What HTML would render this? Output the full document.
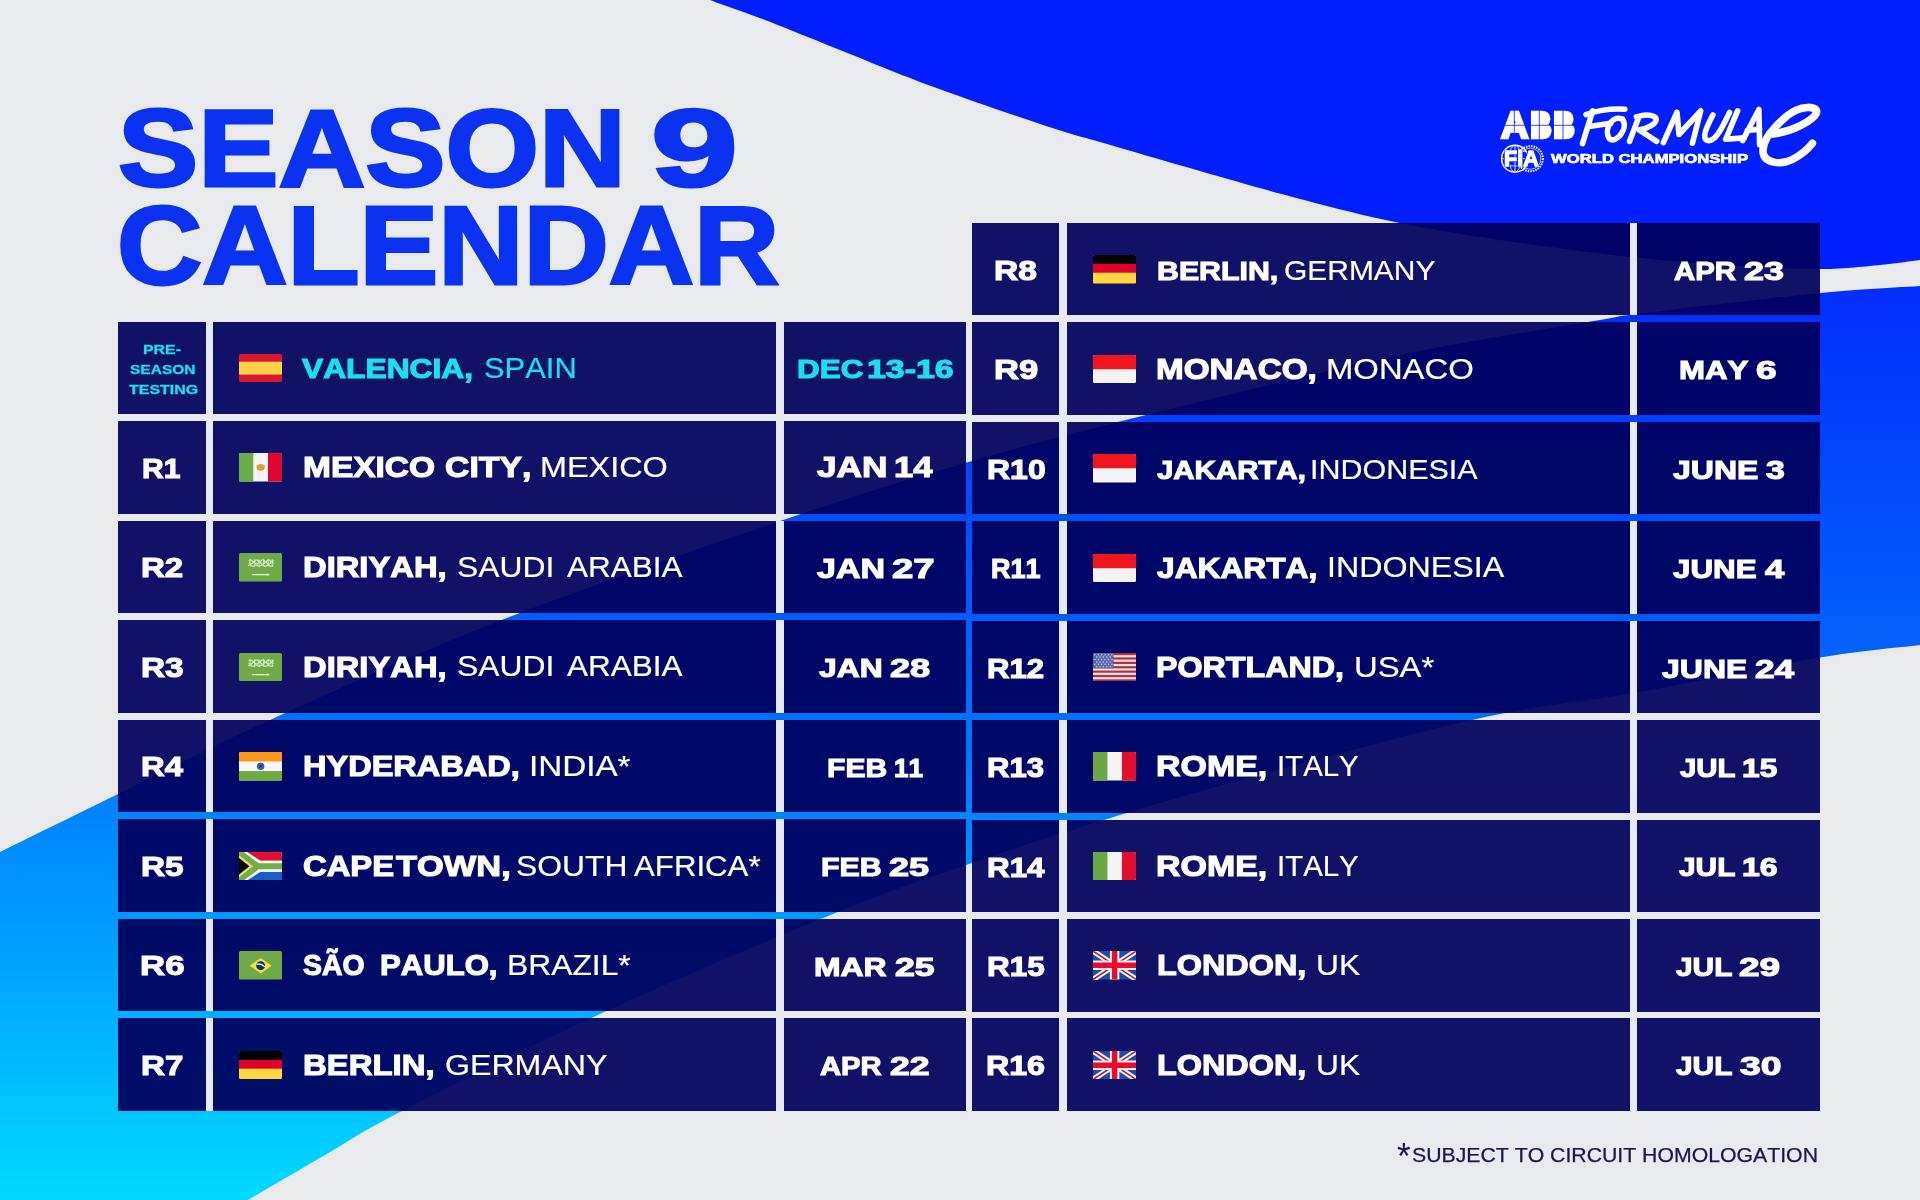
<!DOCTYPE html>
<html lang="en"><head><meta charset="utf-8"><title>Season 9 Calendar</title>
<style>
html,body{margin:0;padding:0}
body{width:1920px;height:1200px;position:relative;overflow:hidden;background:#e9eaee;font-family:"Liberation Sans",sans-serif;font-kerning:none}
.bg{position:absolute;left:0;top:0}
.c{position:absolute;background:rgba(0,0,92,.93)}
.s{position:absolute;background:#e6e9fa}
.tx{position:absolute;left:0;top:0;width:1920px;height:1200px;will-change:transform}
.t{position:absolute;white-space:pre;line-height:1;transform-origin:0 0;font-kerning:none}
.f{position:absolute;display:block;border-radius:1.5px}
</style></head>
<body>
<svg class="bg" width="1920" height="1200" viewBox="0 0 1920 1200"><defs><linearGradient id="g" gradientUnits="userSpaceOnUse" x1="0" y1="0" x2="0" y2="1200"><stop offset="0.2417" stop-color="rgb(3,45,252)"/><stop offset="0.5417" stop-color="rgb(3,98,250)"/><stop offset="0.5983" stop-color="rgb(0,112,250)"/><stop offset="0.7083" stop-color="rgb(0,140,255)"/><stop offset="0.8083" stop-color="rgb(0,165,255)"/><stop offset="0.9167" stop-color="rgb(0,195,255)"/><stop offset="1.0000" stop-color="rgb(0,218,255)"/></linearGradient></defs><path d="M700.0,-6.0 L700.3,-5.8 L700.6,-5.5 L700.7,-5.2 L700.9,-5.0 L701.2,-4.6 L701.6,-4.2 L702.1,-3.8 L703.0,-3.3 L704.1,-2.6 L705.6,-1.9 L707.6,-1.0 L710.0,0.0 L712.9,1.1 L716.3,2.4 L720.1,3.8 L724.3,5.3 L728.7,6.8 L733.4,8.5 L738.4,10.2 L743.5,12.1 L748.8,14.0 L754.2,15.9 L759.6,17.9 L765.0,20.0 L770.5,22.1 L776.3,24.4 L782.3,26.8 L788.5,29.3 L794.8,31.8 L801.2,34.4 L807.7,37.0 L814.3,39.6 L820.8,42.3 L827.3,44.9 L833.7,47.5 L840.0,50.0 L846.2,52.5 L852.5,55.0 L858.8,57.6 L865.0,60.1 L871.2,62.7 L877.5,65.2 L883.8,67.7 L890.0,70.2 L896.2,72.7 L902.5,75.2 L908.8,77.6 L915.0,80.0 L921.2,82.4 L927.5,84.7 L933.8,87.0 L940.0,89.3 L946.2,91.6 L952.5,93.8 L958.8,96.0 L965.0,98.3 L971.2,100.5 L977.5,102.7 L983.8,104.8 L990.0,107.0 L996.4,109.2 L1003.0,111.5 L1009.7,113.7 L1016.5,116.0 L1023.3,118.3 L1030.0,120.6 L1036.6,122.7 L1043.0,124.9 L1049.1,126.9 L1054.8,128.7 L1060.2,130.4 L1065.0,132.0 L1069.1,133.3 L1072.4,134.3 L1075.0,135.1 L1077.2,135.7 L1079.1,136.3 L1080.9,136.8 L1082.8,137.2 L1085.0,137.8 L1087.6,138.5 L1090.9,139.4 L1094.9,140.5 L1100.0,142.0 L1106.1,143.8 L1112.9,145.7 L1120.4,147.9 L1128.5,150.3 L1137.1,152.8 L1145.9,155.4 L1155.0,158.0 L1164.3,160.7 L1173.5,163.4 L1182.6,166.0 L1191.5,168.6 L1200.0,171.0 L1208.3,173.4 L1216.7,175.8 L1225.1,178.2 L1233.5,180.6 L1241.9,183.0 L1250.3,185.4 L1258.7,187.7 L1267.0,190.1 L1275.4,192.4 L1283.6,194.6 L1291.8,196.8 L1300.0,199.0 L1308.1,201.1 L1316.0,203.2 L1323.9,205.2 L1331.7,207.2 L1339.4,209.2 L1347.2,211.1 L1355.0,213.0 L1362.8,214.9 L1370.7,216.7 L1378.6,218.5 L1386.7,220.3 L1395.0,222.0 L1403.3,223.7 L1411.6,225.3 L1420.0,226.9 L1428.3,228.4 L1436.8,229.9 L1445.3,231.4 L1454.0,232.8 L1462.8,234.3 L1471.8,235.7 L1480.9,237.1 L1490.3,238.6 L1500.0,240.0 L1510.0,241.5 L1520.5,243.0 L1531.2,244.5 L1542.2,246.0 L1553.4,247.6 L1564.7,249.1 L1576.0,250.5 L1587.2,252.0 L1598.3,253.3 L1609.2,254.6 L1619.8,255.9 L1630.0,257.0 L1640.0,258.0 L1649.8,259.0 L1659.6,260.0 L1669.3,260.8 L1678.8,261.6 L1688.1,262.4 L1697.3,263.1 L1706.3,263.7 L1715.1,264.4 L1723.6,264.9 L1731.9,265.5 L1740.0,266.0 L1747.8,266.5 L1755.4,266.9 L1762.8,267.3 L1770.0,267.7 L1777.0,268.0 L1783.8,268.2 L1790.3,268.5 L1796.7,268.7 L1802.8,268.8 L1808.8,268.9 L1814.5,269.0 L1820.0,269.0 L1825.2,269.0 L1830.1,268.9 L1834.6,268.7 L1838.9,268.6 L1843.0,268.3 L1846.9,268.1 L1850.7,267.8 L1854.4,267.4 L1858.2,267.1 L1862.0,266.7 L1865.9,266.4 L1870.0,266.0 L1874.2,265.6 L1878.4,265.2 L1882.7,264.7 L1887.0,264.3 L1891.3,263.8 L1895.6,263.2 L1899.9,262.7 L1904.1,262.2 L1908.2,261.6 L1912.2,261.1 L1916.2,260.5 L1920.0,260.0 L1923.8,259.4 L1927.7,258.8 L1931.6,258.2 L1935.6,257.5 L1939.4,256.8 L1943.1,256.1 L1946.7,255.5 L1950.0,254.9 L1953.0,254.3 L1955.8,253.8 L1958.1,253.3 L1960.0,253.0 L1960.0,-10.0 L700.0,-10.0 Z" fill="#001eff"/><path d="M1960.0,283.0 L1958.3,283.1 L1956.3,283.3 L1954.2,283.4 L1951.9,283.6 L1949.2,283.8 L1946.2,284.1 L1942.9,284.3 L1939.3,284.6 L1935.2,284.9 L1930.6,285.2 L1925.6,285.6 L1920.0,286.0 L1914.0,286.4 L1907.8,286.8 L1901.2,287.1 L1894.2,287.5 L1886.8,287.9 L1878.9,288.4 L1870.6,288.9 L1861.7,289.5 L1852.2,290.2 L1842.2,291.0 L1831.4,291.9 L1820.0,293.0 L1807.2,294.3 L1792.6,295.9 L1776.7,297.6 L1759.7,299.5 L1742.2,301.5 L1724.6,303.6 L1707.1,305.6 L1690.3,307.6 L1674.4,309.5 L1660.0,311.2 L1647.4,312.7 L1637.0,314.0 L1629.3,314.9 L1624.3,315.5 L1621.3,315.9 L1619.9,316.0 L1619.5,316.1 L1619.6,316.1 L1619.6,316.2 L1619.0,316.4 L1617.3,316.8 L1613.9,317.5 L1608.3,318.5 L1600.0,320.0 L1589.2,321.8 L1576.8,323.9 L1562.8,326.1 L1547.6,328.6 L1531.2,331.2 L1513.8,334.1 L1495.7,337.1 L1477.0,340.3 L1457.9,343.7 L1438.6,347.3 L1419.2,351.1 L1400.0,355.0 L1380.3,359.2 L1359.3,363.8 L1337.5,368.8 L1315.0,374.0 L1292.2,379.4 L1269.1,384.9 L1246.2,390.4 L1223.6,395.9 L1201.7,401.3 L1180.6,406.5 L1160.6,411.4 L1142.0,416.0 L1124.8,420.3 L1108.6,424.3 L1093.4,428.2 L1079.0,431.9 L1065.1,435.4 L1051.8,438.9 L1038.7,442.4 L1025.7,445.9 L1012.7,449.5 L999.5,453.2 L986.0,457.0 L972.0,461.0 L958.0,465.0 L944.5,468.9 L931.4,472.8 L918.4,476.6 L905.5,480.5 L892.2,484.5 L878.6,488.7 L864.4,493.2 L849.5,498.0 L833.5,503.2 L816.4,508.8 L798.0,515.0 L777.9,521.8 L756.2,529.1 L733.0,537.0 L708.9,545.3 L683.9,553.9 L658.4,562.8 L632.8,571.7 L607.3,580.8 L582.1,589.9 L557.7,598.8 L534.2,607.5 L512.0,616.0 L490.7,624.3 L469.8,632.7 L449.2,641.1 L429.1,649.6 L409.3,658.0 L389.9,666.3 L371.0,674.6 L352.5,682.8 L334.4,690.8 L316.8,698.7 L299.7,706.5 L283.0,714.0 L266.9,721.4 L251.3,728.6 L236.1,735.8 L221.5,742.8 L207.3,749.7 L193.6,756.5 L180.2,763.1 L167.1,769.6 L154.4,776.0 L142.0,782.1 L129.9,788.2 L118.0,794.0 L106.3,799.7 L94.7,805.4 L83.4,810.9 L72.3,816.4 L61.6,821.7 L51.2,826.8 L41.3,831.6 L31.8,836.3 L22.9,840.7 L14.6,844.8 L7.0,848.6 L0.0,852.0 L-6.2,855.1 L-11.6,857.8 L-16.4,860.1 L-20.6,862.2 L-24.2,864.0 L-27.4,865.6 L-30.1,867.0 L-32.5,868.2 L-34.6,869.3 L-36.6,870.3 L-38.3,871.2 L-40.0,872.0 L-40.0,1220.0 L214.0,1220.0 L215.5,1219.1 L217.2,1218.1 L219.1,1217.0 L221.2,1215.7 L223.6,1214.4 L226.2,1212.8 L229.1,1211.1 L232.2,1209.3 L235.7,1207.2 L239.5,1205.0 L243.6,1202.6 L248.0,1200.0 L252.9,1197.1 L258.3,1193.9 L264.2,1190.5 L270.5,1186.8 L277.0,1183.0 L283.8,1179.0 L290.7,1174.9 L297.7,1170.9 L304.7,1166.8 L311.7,1162.7 L318.4,1158.8 L325.0,1155.0 L331.0,1151.5 L336.4,1148.2 L341.4,1145.2 L346.2,1142.2 L351.0,1139.3 L355.9,1136.2 L361.3,1133.0 L367.4,1129.6 L374.2,1125.7 L382.2,1121.4 L391.3,1116.5 L402.0,1111.0 L414.2,1104.8 L427.6,1097.9 L442.2,1090.5 L457.7,1082.7 L474.1,1074.5 L491.2,1066.0 L508.9,1057.3 L526.9,1048.5 L545.2,1039.7 L563.6,1031.0 L581.9,1022.4 L600.0,1014.0 L618.5,1005.6 L637.9,996.9 L658.1,988.0 L678.7,979.0 L699.5,970.0 L720.4,961.1 L741.0,952.3 L761.2,943.7 L780.8,935.6 L799.4,927.8 L816.9,920.6 L833.0,914.0 L847.7,908.1 L861.1,902.8 L873.5,898.0 L885.0,893.6 L895.8,889.6 L906.1,885.8 L916.2,882.2 L926.1,878.7 L936.2,875.3 L946.6,871.7 L957.5,868.0 L969.0,864.0 L981.0,859.9 L993.0,855.8 L1005.0,851.7 L1017.1,847.7 L1029.4,843.6 L1041.8,839.6 L1054.3,835.5 L1067.0,831.4 L1079.9,827.4 L1093.0,823.3 L1106.4,819.2 L1120.0,815.0 L1134.0,810.8 L1148.2,806.6 L1162.7,802.3 L1177.5,798.0 L1192.4,793.7 L1207.6,789.4 L1222.8,785.1 L1238.2,780.9 L1253.6,776.6 L1269.1,772.3 L1284.6,768.2 L1300.0,764.0 L1315.6,759.8 L1331.6,755.5 L1347.7,751.2 L1364.1,746.9 L1380.5,742.6 L1396.9,738.3 L1413.2,734.1 L1429.3,730.1 L1445.1,726.2 L1460.5,722.6 L1475.5,719.2 L1490.0,716.0 L1503.8,713.2 L1517.0,710.7 L1529.6,708.6 L1541.9,706.6 L1553.8,704.8 L1565.6,703.2 L1577.4,701.5 L1589.3,699.9 L1601.3,698.2 L1613.7,696.3 L1626.6,694.3 L1640.0,692.0 L1654.2,689.4 L1669.2,686.6 L1684.8,683.6 L1700.7,680.5 L1716.9,677.3 L1733.1,674.0 L1749.2,670.8 L1764.8,667.8 L1779.9,664.8 L1794.3,662.1 L1807.7,659.6 L1820.0,657.5 L1831.3,655.7 L1842.0,654.1 L1852.0,652.7 L1861.5,651.4 L1870.4,650.4 L1878.8,649.4 L1886.6,648.6 L1894.1,647.8 L1901.1,647.1 L1907.7,646.4 L1914.0,645.7 L1920.0,645.0 L1925.6,644.3 L1930.6,643.7 L1935.2,643.1 L1939.3,642.6 L1942.9,642.1 L1946.2,641.7 L1949.2,641.3 L1951.9,641.0 L1954.2,640.7 L1956.3,640.5 L1958.3,640.2 L1960.0,640.0 Z" fill="url(#g)"/></svg>
<div class="c" style="left:118.3px;top:321.6px;width:87.7px;height:92.6px"></div>
<div class="c" style="left:213.0px;top:321.6px;width:563.4px;height:92.6px"></div>
<div class="c" style="left:784.0px;top:321.6px;width:181.8px;height:92.6px"></div>
<div class="s" style="left:206.0px;top:321.6px;width:7.0px;height:92.6px"></div>
<div class="s" style="left:776.4px;top:321.6px;width:7.6px;height:92.6px"></div>
<div class="c" style="left:118.3px;top:421.2px;width:87.7px;height:92.6px"></div>
<div class="c" style="left:213.0px;top:421.2px;width:563.4px;height:92.6px"></div>
<div class="c" style="left:784.0px;top:421.2px;width:181.8px;height:92.6px"></div>
<div class="s" style="left:206.0px;top:421.2px;width:7.0px;height:92.6px"></div>
<div class="s" style="left:776.4px;top:421.2px;width:7.6px;height:92.6px"></div>
<div class="c" style="left:118.3px;top:520.7px;width:87.7px;height:92.6px"></div>
<div class="c" style="left:213.0px;top:520.7px;width:563.4px;height:92.6px"></div>
<div class="c" style="left:784.0px;top:520.7px;width:181.8px;height:92.6px"></div>
<div class="s" style="left:206.0px;top:520.7px;width:7.0px;height:92.6px"></div>
<div class="s" style="left:776.4px;top:520.7px;width:7.6px;height:92.6px"></div>
<div class="c" style="left:118.3px;top:620.3px;width:87.7px;height:92.6px"></div>
<div class="c" style="left:213.0px;top:620.3px;width:563.4px;height:92.6px"></div>
<div class="c" style="left:784.0px;top:620.3px;width:181.8px;height:92.6px"></div>
<div class="s" style="left:206.0px;top:620.3px;width:7.0px;height:92.6px"></div>
<div class="s" style="left:776.4px;top:620.3px;width:7.6px;height:92.6px"></div>
<div class="c" style="left:118.3px;top:719.8px;width:87.7px;height:92.6px"></div>
<div class="c" style="left:213.0px;top:719.8px;width:563.4px;height:92.6px"></div>
<div class="c" style="left:784.0px;top:719.8px;width:181.8px;height:92.6px"></div>
<div class="s" style="left:206.0px;top:719.8px;width:7.0px;height:92.6px"></div>
<div class="s" style="left:776.4px;top:719.8px;width:7.6px;height:92.6px"></div>
<div class="c" style="left:118.3px;top:819.3px;width:87.7px;height:92.6px"></div>
<div class="c" style="left:213.0px;top:819.3px;width:563.4px;height:92.6px"></div>
<div class="c" style="left:784.0px;top:819.3px;width:181.8px;height:92.6px"></div>
<div class="s" style="left:206.0px;top:819.3px;width:7.0px;height:92.6px"></div>
<div class="s" style="left:776.4px;top:819.3px;width:7.6px;height:92.6px"></div>
<div class="c" style="left:118.3px;top:918.9px;width:87.7px;height:92.6px"></div>
<div class="c" style="left:213.0px;top:918.9px;width:563.4px;height:92.6px"></div>
<div class="c" style="left:784.0px;top:918.9px;width:181.8px;height:92.6px"></div>
<div class="s" style="left:206.0px;top:918.9px;width:7.0px;height:92.6px"></div>
<div class="s" style="left:776.4px;top:918.9px;width:7.6px;height:92.6px"></div>
<div class="c" style="left:118.3px;top:1018.4px;width:87.7px;height:92.6px"></div>
<div class="c" style="left:213.0px;top:1018.4px;width:563.4px;height:92.6px"></div>
<div class="c" style="left:784.0px;top:1018.4px;width:181.8px;height:92.6px"></div>
<div class="s" style="left:206.0px;top:1018.4px;width:7.0px;height:92.6px"></div>
<div class="s" style="left:776.4px;top:1018.4px;width:7.6px;height:92.6px"></div>
<div class="c" style="left:972.2px;top:222.9px;width:87.2px;height:92.6px"></div>
<div class="c" style="left:1067.0px;top:222.9px;width:563.0px;height:92.6px"></div>
<div class="c" style="left:1637.4px;top:222.9px;width:182.3px;height:92.6px"></div>
<div class="s" style="left:1059.4px;top:222.9px;width:7.6px;height:92.6px"></div>
<div class="s" style="left:1630.0px;top:222.9px;width:7.4px;height:92.6px"></div>
<div class="c" style="left:972.2px;top:322.3px;width:87.2px;height:92.6px"></div>
<div class="c" style="left:1067.0px;top:322.3px;width:563.0px;height:92.6px"></div>
<div class="c" style="left:1637.4px;top:322.3px;width:182.3px;height:92.6px"></div>
<div class="s" style="left:1059.4px;top:322.3px;width:7.6px;height:92.6px"></div>
<div class="s" style="left:1630.0px;top:322.3px;width:7.4px;height:92.6px"></div>
<div class="c" style="left:972.2px;top:421.8px;width:87.2px;height:92.6px"></div>
<div class="c" style="left:1067.0px;top:421.8px;width:563.0px;height:92.6px"></div>
<div class="c" style="left:1637.4px;top:421.8px;width:182.3px;height:92.6px"></div>
<div class="s" style="left:1059.4px;top:421.8px;width:7.6px;height:92.6px"></div>
<div class="s" style="left:1630.0px;top:421.8px;width:7.4px;height:92.6px"></div>
<div class="c" style="left:972.2px;top:521.2px;width:87.2px;height:92.6px"></div>
<div class="c" style="left:1067.0px;top:521.2px;width:563.0px;height:92.6px"></div>
<div class="c" style="left:1637.4px;top:521.2px;width:182.3px;height:92.6px"></div>
<div class="s" style="left:1059.4px;top:521.2px;width:7.6px;height:92.6px"></div>
<div class="s" style="left:1630.0px;top:521.2px;width:7.4px;height:92.6px"></div>
<div class="c" style="left:972.2px;top:620.7px;width:87.2px;height:92.6px"></div>
<div class="c" style="left:1067.0px;top:620.7px;width:563.0px;height:92.6px"></div>
<div class="c" style="left:1637.4px;top:620.7px;width:182.3px;height:92.6px"></div>
<div class="s" style="left:1059.4px;top:620.7px;width:7.6px;height:92.6px"></div>
<div class="s" style="left:1630.0px;top:620.7px;width:7.4px;height:92.6px"></div>
<div class="c" style="left:972.2px;top:720.1px;width:87.2px;height:92.6px"></div>
<div class="c" style="left:1067.0px;top:720.1px;width:563.0px;height:92.6px"></div>
<div class="c" style="left:1637.4px;top:720.1px;width:182.3px;height:92.6px"></div>
<div class="s" style="left:1059.4px;top:720.1px;width:7.6px;height:92.6px"></div>
<div class="s" style="left:1630.0px;top:720.1px;width:7.4px;height:92.6px"></div>
<div class="c" style="left:972.2px;top:819.5px;width:87.2px;height:92.6px"></div>
<div class="c" style="left:1067.0px;top:819.5px;width:563.0px;height:92.6px"></div>
<div class="c" style="left:1637.4px;top:819.5px;width:182.3px;height:92.6px"></div>
<div class="s" style="left:1059.4px;top:819.5px;width:7.6px;height:92.6px"></div>
<div class="s" style="left:1630.0px;top:819.5px;width:7.4px;height:92.6px"></div>
<div class="c" style="left:972.2px;top:919.0px;width:87.2px;height:92.6px"></div>
<div class="c" style="left:1067.0px;top:919.0px;width:563.0px;height:92.6px"></div>
<div class="c" style="left:1637.4px;top:919.0px;width:182.3px;height:92.6px"></div>
<div class="s" style="left:1059.4px;top:919.0px;width:7.6px;height:92.6px"></div>
<div class="s" style="left:1630.0px;top:919.0px;width:7.4px;height:92.6px"></div>
<div class="c" style="left:972.2px;top:1018.4px;width:87.2px;height:92.6px"></div>
<div class="c" style="left:1067.0px;top:1018.4px;width:563.0px;height:92.6px"></div>
<div class="c" style="left:1637.4px;top:1018.4px;width:182.3px;height:92.6px"></div>
<div class="s" style="left:1059.4px;top:1018.4px;width:7.6px;height:92.6px"></div>
<div class="s" style="left:1630.0px;top:1018.4px;width:7.4px;height:92.6px"></div>
<svg class="f" style="left:238.7px;top:353.9px" width="43.3" height="28.5" viewBox="0 0 43 28" preserveAspectRatio="none"><rect width="43" height="28" fill="#da1530"/><rect y="7.6" width="43" height="12.6" fill="#fbd145"/></svg>
<svg class="f" style="left:238.7px;top:453.4px" width="43.3" height="28.5" viewBox="0 0 43 28" preserveAspectRatio="none"><rect width="43" height="28" fill="#f4f4f4"/><rect width="14.2" height="28" fill="#6cab4a"/><rect x="28.8" width="14.2" height="28" fill="#de0530"/><ellipse cx="21.5" cy="14.2" rx="4" ry="3.2" fill="#cfa236"/><path d="M17.2,12.6 Q21.5,11 25.8,12.6" stroke="#e8a232" stroke-width="1.1" fill="none"/></svg>
<svg class="f" style="left:238.7px;top:553.0px" width="43.3" height="28.5" viewBox="0 0 43 28" preserveAspectRatio="none"><rect width="43" height="28" fill="#70aa48"/><g stroke="#d6efc8" stroke-width="1.3" fill="none" stroke-linecap="round" opacity=".92"><path d="M10,7.6 q1.5,-1.6 3,0 t3,0 t3,0 t3,0 t3,0 t3,0 t3,0 t3,0"/><path d="M10,10 q1.5,1.6 3,0 t3,0 t3,0 t3,0 t3,0 t3,0 t3,0 t3,0"/><path d="M9.6,12.4 q1.5,-1.6 3,0 t3,0 t3,0 t3,0 t3,0 t3,0 t3,0 t3,0"/><path d="M11,6.4 V13 M15.5,6.4 V13 M20,6.4 V13 M24.5,6.4 V13 M29,6.4 V13 M33,6.4 V13" stroke-width=".9"/></g><path d="M12.8,21.2 H30.2 M28.2,20.2 V22.4" stroke="#e4f3da" stroke-width="1.3" fill="none"/></svg>
<svg class="f" style="left:238.7px;top:652.5px" width="43.3" height="28.5" viewBox="0 0 43 28" preserveAspectRatio="none"><rect width="43" height="28" fill="#70aa48"/><g stroke="#d6efc8" stroke-width="1.3" fill="none" stroke-linecap="round" opacity=".92"><path d="M10,7.6 q1.5,-1.6 3,0 t3,0 t3,0 t3,0 t3,0 t3,0 t3,0 t3,0"/><path d="M10,10 q1.5,1.6 3,0 t3,0 t3,0 t3,0 t3,0 t3,0 t3,0 t3,0"/><path d="M9.6,12.4 q1.5,-1.6 3,0 t3,0 t3,0 t3,0 t3,0 t3,0 t3,0 t3,0"/><path d="M11,6.4 V13 M15.5,6.4 V13 M20,6.4 V13 M24.5,6.4 V13 M29,6.4 V13 M33,6.4 V13" stroke-width=".9"/></g><path d="M12.8,21.2 H30.2 M28.2,20.2 V22.4" stroke="#e4f3da" stroke-width="1.3" fill="none"/></svg>
<svg class="f" style="left:238.7px;top:752.1px" width="43.3" height="28.5" viewBox="0 0 43 28" preserveAspectRatio="none"><rect width="43" height="28" fill="#f5f5f8"/><rect width="43" height="9.3" fill="#fc9a18"/><rect y="18.7" width="43" height="9.3" fill="#70ab42"/><circle cx="21.5" cy="14" r="3.7" fill="#3560b4"/><circle cx="21.5" cy="14" r="1.3" fill="#17357e"/></svg>
<svg class="f" style="left:238.7px;top:851.6px" width="43.3" height="28.5" viewBox="0 0 43 28" preserveAspectRatio="none"><rect width="43" height="28" fill="#f6f6f4"/><rect width="43" height="8.6" fill="#e10f32"/><rect y="19.4" width="43" height="8.6" fill="#1b5cc0"/><path d="M0,0 L8,0 L21.5,8.6 L43,8.6 L43,19.4 L21.5,19.4 L8,28 L0,28Z" fill="#f6f6f4"/><path d="M0,0 L4.6,0 L19.5,11 L43,11 L43,17 L19.5,17 L4.6,28 L0,28Z" fill="#72ad48"/><path d="M0,3.2 L14,14 L0,24.8Z" fill="#f3e25a"/><path d="M0,5.8 L10.4,14 L0,22.2Z" fill="#050505"/></svg>
<svg class="f" style="left:238.7px;top:951.1px" width="43.3" height="28.5" viewBox="0 0 43 28" preserveAspectRatio="none"><rect width="43" height="28" fill="#70aa46"/><path d="M21.5,6.8 L32.4,14.4 L21.5,22 L10.6,14.4Z" fill="#f2e04a"/><circle cx="21.5" cy="14.4" r="4.4" fill="#10306e"/><path d="M17.4,13.2 Q21.8,11.6 25.7,15.6" stroke="#dff0f4" stroke-width="1.3" fill="none"/></svg>
<svg class="f" style="left:238.7px;top:1050.7px" width="43.3" height="28.5" viewBox="0 0 43 28" preserveAspectRatio="none"><rect width="43" height="28" fill="#ffd83e"/><rect width="43" height="17.4" fill="#e1002a"/><rect width="43" height="8.7" fill="#000"/></svg>
<svg class="f" style="left:1092.7px;top:255.1px" width="43.3" height="28.5" viewBox="0 0 43 28" preserveAspectRatio="none"><rect width="43" height="28" fill="#ffd83e"/><rect width="43" height="17.4" fill="#e1002a"/><rect width="43" height="8.7" fill="#000"/></svg>
<svg class="f" style="left:1092.7px;top:354.6px" width="43.3" height="28.5" viewBox="0 0 43 28" preserveAspectRatio="none"><rect width="43" height="28" fill="#f4f4f4"/><rect width="43" height="14" fill="#f0151f"/></svg>
<svg class="f" style="left:1092.7px;top:454.0px" width="43.3" height="28.5" viewBox="0 0 43 28" preserveAspectRatio="none"><rect width="43" height="28" fill="#f4f4f4"/><rect width="43" height="14" fill="#f0151f"/></svg>
<svg class="f" style="left:1092.7px;top:553.5px" width="43.3" height="28.5" viewBox="0 0 43 28" preserveAspectRatio="none"><rect width="43" height="28" fill="#f4f4f4"/><rect width="43" height="14" fill="#f0151f"/></svg>
<svg class="f" style="left:1092.7px;top:652.9px" width="43.3" height="28.5" viewBox="0 0 43 28" preserveAspectRatio="none"><rect width="43" height="28" fill="#fae6ea"/><rect y="0.00" width="43" height="2.15" fill="#b42c3e"/><rect y="4.31" width="43" height="2.15" fill="#b42c3e"/><rect y="8.62" width="43" height="2.15" fill="#b42c3e"/><rect y="12.93" width="43" height="2.15" fill="#b42c3e"/><rect y="17.24" width="43" height="2.15" fill="#b42c3e"/><rect y="21.55" width="43" height="2.15" fill="#b42c3e"/><rect y="25.86" width="43" height="2.15" fill="#b42c3e"/><rect width="20.5" height="15.1" fill="#5a66a6"/><circle cx="1.8" cy="1.7" r=".7" fill="#dfe2f2"/><circle cx="5.2" cy="1.7" r=".7" fill="#dfe2f2"/><circle cx="8.6" cy="1.7" r=".7" fill="#dfe2f2"/><circle cx="12.0" cy="1.7" r=".7" fill="#dfe2f2"/><circle cx="15.4" cy="1.7" r=".7" fill="#dfe2f2"/><circle cx="18.8" cy="1.7" r=".7" fill="#dfe2f2"/><circle cx="3.5" cy="4.0" r=".7" fill="#dfe2f2"/><circle cx="6.9" cy="4.0" r=".7" fill="#dfe2f2"/><circle cx="10.3" cy="4.0" r=".7" fill="#dfe2f2"/><circle cx="13.7" cy="4.0" r=".7" fill="#dfe2f2"/><circle cx="17.1" cy="4.0" r=".7" fill="#dfe2f2"/><circle cx="1.8" cy="6.4" r=".7" fill="#dfe2f2"/><circle cx="5.2" cy="6.4" r=".7" fill="#dfe2f2"/><circle cx="8.6" cy="6.4" r=".7" fill="#dfe2f2"/><circle cx="12.0" cy="6.4" r=".7" fill="#dfe2f2"/><circle cx="15.4" cy="6.4" r=".7" fill="#dfe2f2"/><circle cx="18.8" cy="6.4" r=".7" fill="#dfe2f2"/><circle cx="3.5" cy="8.8" r=".7" fill="#dfe2f2"/><circle cx="6.9" cy="8.8" r=".7" fill="#dfe2f2"/><circle cx="10.3" cy="8.8" r=".7" fill="#dfe2f2"/><circle cx="13.7" cy="8.8" r=".7" fill="#dfe2f2"/><circle cx="17.1" cy="8.8" r=".7" fill="#dfe2f2"/><circle cx="1.8" cy="11.1" r=".7" fill="#dfe2f2"/><circle cx="5.2" cy="11.1" r=".7" fill="#dfe2f2"/><circle cx="8.6" cy="11.1" r=".7" fill="#dfe2f2"/><circle cx="12.0" cy="11.1" r=".7" fill="#dfe2f2"/><circle cx="15.4" cy="11.1" r=".7" fill="#dfe2f2"/><circle cx="18.8" cy="11.1" r=".7" fill="#dfe2f2"/><circle cx="3.5" cy="13.4" r=".7" fill="#dfe2f2"/><circle cx="6.9" cy="13.4" r=".7" fill="#dfe2f2"/><circle cx="10.3" cy="13.4" r=".7" fill="#dfe2f2"/><circle cx="13.7" cy="13.4" r=".7" fill="#dfe2f2"/><circle cx="17.1" cy="13.4" r=".7" fill="#dfe2f2"/></svg>
<svg class="f" style="left:1092.7px;top:752.4px" width="43.3" height="28.5" viewBox="0 0 43 28" preserveAspectRatio="none"><rect width="43" height="28" fill="#f4f4f4"/><rect width="14.3" height="28" fill="#69a844"/><rect x="28.7" width="14.3" height="28" fill="#e30f2d"/></svg>
<svg class="f" style="left:1092.7px;top:851.8px" width="43.3" height="28.5" viewBox="0 0 43 28" preserveAspectRatio="none"><rect width="43" height="28" fill="#f4f4f4"/><rect width="14.3" height="28" fill="#69a844"/><rect x="28.7" width="14.3" height="28" fill="#e30f2d"/></svg>
<svg class="f" style="left:1092.7px;top:951.2px" width="43.3" height="28.5" viewBox="0 0 43 28" preserveAspectRatio="none"><rect width="43" height="28" fill="#1d4ea6"/><path d="M0,0 L43,28 M43,0 L0,28" stroke="#f6f0f2" stroke-width="5.4"/><path d="M0,0 L43,28 M43,0 L0,28" stroke="#b8182e" stroke-width="1.5"/><path d="M21.5,0 V28 M0,14 H43" stroke="#f6f0f2" stroke-width="9.4"/><path d="M21.5,0 V28 M0,14 H43" stroke="#ea0c2c" stroke-width="5.4"/></svg>
<svg class="f" style="left:1092.7px;top:1050.7px" width="43.3" height="28.5" viewBox="0 0 43 28" preserveAspectRatio="none"><rect width="43" height="28" fill="#1d4ea6"/><path d="M0,0 L43,28 M43,0 L0,28" stroke="#f6f0f2" stroke-width="5.4"/><path d="M0,0 L43,28 M43,0 L0,28" stroke="#b8182e" stroke-width="1.5"/><path d="M21.5,0 V28 M0,14 H43" stroke="#f6f0f2" stroke-width="9.4"/><path d="M21.5,0 V28 M0,14 H43" stroke="#ea0c2c" stroke-width="5.4"/></svg>
<svg class="lg" style="position:absolute;left:1490px;top:95px" width="340" height="90" viewBox="1490 95 340 90" role="img" aria-label="ABB FIA Formula E World Championship"><g fill="none" stroke="#fff" stroke-linecap="round" stroke-linejoin="round" stroke-width="5.6"><path d="M1592.7,110.8 L1582.5,143.6"/><path d="M1586.0,114.6 Q1603.9,108.1 1624.8,109.2"/><path d="M1589.0,126.4 L1610.6,123.3"/><path d="M1622.1,119.0 C1610.6,114.9 1603.9,131.1 1609.3,138.6 C1616.0,144.7 1629.6,127.1 1622.1,119.0"/><path d="M1638.4,118.3 L1629.6,141.3"/><path d="M1636.4,116.9 C1651.2,112.2 1663.4,117.6 1651.2,125.7 Q1645.8,129.1 1639.1,129.8 L1656.7,141.3"/><path d="M1663.4,142.7 L1677.0,112.2 L1679.0,134.5 L1700.7,110.8 L1692.5,143.1"/><path d="M1712.9,114.9 C1708.1,124.4 1700.0,139.3 1708.1,140.6 C1716.2,141.3 1723.0,125.7 1729.5,112.5"/><path d="M1737.6,110.8 L1725.7,139.3 L1744.0,137.9"/><path d="M1742.6,140.6 L1758.9,109.5 L1759.6,144.7"/><path d="M1747.4,130.5 L1759.6,129.1"/></g><path d="M1773.1,133.9 C1792.1,131.8 1813.7,120.3 1816.4,112.9 C1818.5,105.4 1800.2,104.7 1786.7,116.2 C1773.1,127.8 1762.3,140.6 1763.0,151.5 C1763.6,163.6 1781.2,165.0 1792.1,159.6 C1801.6,154.8 1808.3,148.7 1812.4,143.3" fill="none" stroke="#fff" stroke-linecap="round" stroke-linejoin="round" stroke-width="7.6"/><path d="M1534,114 H1547 V137 H1534Z M1557,114 H1570 V137 H1557Z M1510.5,123 H1520 V133 H1510.5Z" fill="#fff"/><g fill="none" stroke="#fff"><circle cx="1515" cy="158.7" r="13.4" stroke-width="1.4"/><circle cx="1530.3" cy="158.7" r="12.6" stroke-width="2" stroke-dasharray="1.5 1.1"/><circle cx="1530.3" cy="158.7" r="10.6" stroke-width="0.7"/><ellipse cx="1515" cy="158.7" rx="6" ry="13.4" stroke-width="0.8"/><path d="M1501.6,158.7 H1528.4 M1515,145.3 V172.1 M1503.8,151.5 H1526.2 M1503.8,165.9 H1526.2" stroke-width="0.8"/></g></svg>
<div class="tx">
<div class="t" style="left:302.41px;top:355.04px;font-size:27.76px;transform:scaleX(1.1435);color:#18e0f2;font-weight:700;-webkit-text-stroke:1.10px #18e0f2;">VALENCIA,</div>
<div class="t" style="left:483.70px;top:353.93px;font-size:29.07px;transform:scaleX(1.0627);color:#18e0f2;-webkit-text-stroke:0.20px #18e0f2;">SPAIN</div>
<div class="t" style="left:796.65px;top:355.77px;font-size:26.31px;transform:scaleX(1.1945);color:#18e0f2;font-weight:700;-webkit-text-stroke:1.10px #18e0f2;">DEC</div>
<div class="t" style="left:866.57px;top:355.77px;font-size:26.31px;transform:scaleX(1.2892);color:#18e0f2;font-weight:700;-webkit-text-stroke:1.10px #18e0f2;">13-16</div>
<div class="t" style="left:142.33px;top:454.55px;font-size:27.91px;transform:scaleX(1.0767);color:#ffffff;font-weight:700;-webkit-text-stroke:1.10px #ffffff;">R1</div>
<div class="t" style="left:302.60px;top:453.49px;font-size:28.92px;transform:scaleX(1.1584);color:#ffffff;font-weight:700;-webkit-text-stroke:1.10px #ffffff;">MEXICO</div>
<div class="t" style="left:444.66px;top:453.49px;font-size:28.92px;transform:scaleX(1.1683);color:#ffffff;font-weight:700;-webkit-text-stroke:1.10px #ffffff;">CITY,</div>
<div class="t" style="left:540.25px;top:452.38px;font-size:30.23px;transform:scaleX(1.0715);color:#ffffff;-webkit-text-stroke:0.20px #ffffff;">MEXICO</div>
<div class="t" style="left:817.13px;top:453.41px;font-size:29.14px;transform:scaleX(1.2106);color:#ffffff;font-weight:700;-webkit-text-stroke:1.10px #ffffff;">JAN</div>
<div class="t" style="left:893.57px;top:453.41px;font-size:29.14px;transform:scaleX(1.1896);color:#ffffff;font-weight:700;-webkit-text-stroke:1.10px #ffffff;">14</div>
<div class="t" style="left:140.94px;top:554.09px;font-size:27.91px;transform:scaleX(1.1838);color:#ffffff;font-weight:700;-webkit-text-stroke:1.10px #ffffff;">R2</div>
<div class="t" style="left:302.83px;top:553.03px;font-size:28.92px;transform:scaleX(1.1322);color:#ffffff;font-weight:700;-webkit-text-stroke:1.10px #ffffff;">DIRIYAH,</div>
<div class="t" style="left:456.96px;top:551.92px;font-size:30.23px;transform:scaleX(1.0528);color:#ffffff;-webkit-text-stroke:0.20px #ffffff;">SAUDI</div>
<div class="t" style="left:566.54px;top:551.92px;font-size:30.23px;transform:scaleX(1.0426);color:#ffffff;-webkit-text-stroke:0.20px #ffffff;">ARABIA</div>
<div class="t" style="left:816.55px;top:553.62px;font-size:28.34px;transform:scaleX(1.2008);color:#ffffff;font-weight:700;-webkit-text-stroke:1.10px #ffffff;">JAN</div>
<div class="t" style="left:892.21px;top:553.62px;font-size:28.34px;transform:scaleX(1.3553);color:#ffffff;font-weight:700;-webkit-text-stroke:1.10px #ffffff;">27</div>
<div class="t" style="left:140.93px;top:653.63px;font-size:27.91px;transform:scaleX(1.1947);color:#ffffff;font-weight:700;-webkit-text-stroke:1.10px #ffffff;">R3</div>
<div class="t" style="left:302.83px;top:652.57px;font-size:28.92px;transform:scaleX(1.1322);color:#ffffff;font-weight:700;-webkit-text-stroke:1.10px #ffffff;">DIRIYAH,</div>
<div class="t" style="left:456.96px;top:651.46px;font-size:30.23px;transform:scaleX(1.0528);color:#ffffff;-webkit-text-stroke:0.20px #ffffff;">SAUDI</div>
<div class="t" style="left:566.54px;top:651.46px;font-size:30.23px;transform:scaleX(1.0426);color:#ffffff;-webkit-text-stroke:0.20px #ffffff;">ARABIA</div>
<div class="t" style="left:819.38px;top:655.19px;font-size:26.31px;transform:scaleX(1.2103);color:#ffffff;font-weight:700;-webkit-text-stroke:1.10px #ffffff;">JAN</div>
<div class="t" style="left:890.40px;top:655.19px;font-size:26.31px;transform:scaleX(1.3756);color:#ffffff;font-weight:700;-webkit-text-stroke:1.10px #ffffff;">28</div>
<div class="t" style="left:140.95px;top:753.17px;font-size:27.91px;transform:scaleX(1.1738);color:#ffffff;font-weight:700;-webkit-text-stroke:1.10px #ffffff;">R4</div>
<div class="t" style="left:302.84px;top:752.11px;font-size:28.92px;transform:scaleX(1.1248);color:#ffffff;font-weight:700;-webkit-text-stroke:1.10px #ffffff;">HYDERABAD,</div>
<div class="t" style="left:528.84px;top:751.00px;font-size:30.23px;transform:scaleX(1.0992);color:#ffffff;-webkit-text-stroke:0.20px #ffffff;">INDIA*</div>
<div class="t" style="left:826.72px;top:754.73px;font-size:26.31px;transform:scaleX(1.1445);color:#ffffff;font-weight:700;-webkit-text-stroke:1.10px #ffffff;">FEB</div>
<div class="t" style="left:893.61px;top:754.73px;font-size:26.31px;transform:scaleX(0.9866);color:#ffffff;font-weight:700;-webkit-text-stroke:1.10px #ffffff;">11</div>
<div class="t" style="left:140.93px;top:852.71px;font-size:27.91px;transform:scaleX(1.1954);color:#ffffff;font-weight:700;-webkit-text-stroke:1.10px #ffffff;">R5</div>
<div class="t" style="left:302.88px;top:851.65px;font-size:28.92px;transform:scaleX(1.1346);color:#ffffff;font-weight:700;-webkit-text-stroke:1.10px #ffffff;">CAPE</div>
<div class="t" style="left:396.47px;top:851.65px;font-size:28.92px;transform:scaleX(1.1908);color:#ffffff;font-weight:700;-webkit-text-stroke:1.10px #ffffff;">TOWN,</div>
<div class="t" style="left:515.86px;top:850.54px;font-size:30.23px;transform:scaleX(1.0531);color:#ffffff;-webkit-text-stroke:0.20px #ffffff;">SOUTH</div>
<div class="t" style="left:633.54px;top:850.54px;font-size:30.23px;transform:scaleX(1.0327);color:#ffffff;-webkit-text-stroke:0.20px #ffffff;">AFRICA*</div>
<div class="t" style="left:821.10px;top:854.27px;font-size:26.31px;transform:scaleX(1.1544);color:#ffffff;font-weight:700;-webkit-text-stroke:1.10px #ffffff;">FEB</div>
<div class="t" style="left:888.50px;top:854.27px;font-size:26.31px;transform:scaleX(1.3719);color:#ffffff;font-weight:700;-webkit-text-stroke:1.10px #ffffff;">25</div>
<div class="t" style="left:140.06px;top:952.25px;font-size:27.91px;transform:scaleX(1.2478);color:#ffffff;font-weight:700;-webkit-text-stroke:1.10px #ffffff;">R6</div>
<div class="t" style="left:303.12px;top:951.19px;font-size:28.92px;transform:scaleX(0.9817);color:#ffffff;font-weight:700;-webkit-text-stroke:1.10px #ffffff;">SÃO</div>
<div class="t" style="left:379.91px;top:951.19px;font-size:28.92px;transform:scaleX(1.0760);color:#ffffff;font-weight:700;-webkit-text-stroke:1.10px #ffffff;">PAULO,</div>
<div class="t" style="left:506.79px;top:950.08px;font-size:30.23px;transform:scaleX(1.0526);color:#ffffff;-webkit-text-stroke:0.20px #ffffff;">BRAZIL*</div>
<div class="t" style="left:814.43px;top:953.81px;font-size:26.31px;transform:scaleX(1.2127);color:#ffffff;font-weight:700;-webkit-text-stroke:1.10px #ffffff;">MAR</div>
<div class="t" style="left:895.31px;top:953.81px;font-size:26.31px;transform:scaleX(1.3580);color:#ffffff;font-weight:700;-webkit-text-stroke:1.10px #ffffff;">25</div>
<div class="t" style="left:140.94px;top:1051.79px;font-size:27.91px;transform:scaleX(1.1876);color:#ffffff;font-weight:700;-webkit-text-stroke:1.10px #ffffff;">R7</div>
<div class="t" style="left:302.82px;top:1050.73px;font-size:28.92px;transform:scaleX(1.1388);color:#ffffff;font-weight:700;-webkit-text-stroke:1.10px #ffffff;">BERLIN,</div>
<div class="t" style="left:444.69px;top:1049.62px;font-size:30.23px;transform:scaleX(1.0631);color:#ffffff;-webkit-text-stroke:0.20px #ffffff;">GERMANY</div>
<div class="t" style="left:819.98px;top:1053.35px;font-size:26.31px;transform:scaleX(1.1091);color:#ffffff;font-weight:700;-webkit-text-stroke:1.10px #ffffff;">APR</div>
<div class="t" style="left:890.01px;top:1053.35px;font-size:26.31px;transform:scaleX(1.3522);color:#ffffff;font-weight:700;-webkit-text-stroke:1.10px #ffffff;">22</div>
<div class="t" style="left:994.42px;top:256.92px;font-size:27.62px;transform:scaleX(1.2164);color:#ffffff;font-weight:700;-webkit-text-stroke:1.10px #ffffff;">R8</div>
<div class="t" style="left:1156.60px;top:258.40px;font-size:26.45px;transform:scaleX(1.1463);color:#ffffff;font-weight:700;-webkit-text-stroke:1.10px #ffffff;">BERLIN,</div>
<div class="t" style="left:1284.10px;top:257.30px;font-size:27.76px;transform:scaleX(1.0789);color:#ffffff;-webkit-text-stroke:0.20px #ffffff;">GERMANY</div>
<div class="t" style="left:1673.63px;top:257.83px;font-size:26.31px;transform:scaleX(1.1154);color:#ffffff;font-weight:700;-webkit-text-stroke:1.10px #ffffff;">APR</div>
<div class="t" style="left:1744.01px;top:257.83px;font-size:26.31px;transform:scaleX(1.3649);color:#ffffff;font-weight:700;-webkit-text-stroke:1.10px #ffffff;">23</div>
<div class="t" style="left:993.87px;top:356.36px;font-size:27.62px;transform:scaleX(1.2526);color:#ffffff;font-weight:700;-webkit-text-stroke:1.10px #ffffff;">R9</div>
<div class="t" style="left:1156.41px;top:354.65px;font-size:28.92px;transform:scaleX(1.1509);color:#ffffff;font-weight:700;-webkit-text-stroke:1.10px #ffffff;">MONACO,</div>
<div class="t" style="left:1326.41px;top:353.54px;font-size:30.23px;transform:scaleX(1.0867);color:#ffffff;-webkit-text-stroke:0.20px #ffffff;">MONACO</div>
<div class="t" style="left:1679.32px;top:357.27px;font-size:26.31px;transform:scaleX(1.1851);color:#ffffff;font-weight:700;-webkit-text-stroke:1.10px #ffffff;">MAY</div>
<div class="t" style="left:1756.17px;top:357.27px;font-size:26.31px;transform:scaleX(1.4113);color:#ffffff;font-weight:700;-webkit-text-stroke:1.10px #ffffff;">6</div>
<div class="t" style="left:986.50px;top:455.80px;font-size:27.62px;transform:scaleX(1.1582);color:#ffffff;font-weight:700;-webkit-text-stroke:1.10px #ffffff;">R10</div>
<div class="t" style="left:1157.47px;top:457.28px;font-size:26.45px;transform:scaleX(1.1133);color:#ffffff;font-weight:700;-webkit-text-stroke:1.10px #ffffff;">JAKARTA,</div>
<div class="t" style="left:1310.30px;top:456.18px;font-size:27.76px;transform:scaleX(1.0978);color:#ffffff;-webkit-text-stroke:0.20px #ffffff;">INDONESIA</div>
<div class="t" style="left:1672.68px;top:456.71px;font-size:26.31px;transform:scaleX(1.2169);color:#ffffff;font-weight:700;-webkit-text-stroke:1.10px #ffffff;">JUNE</div>
<div class="t" style="left:1766.18px;top:456.71px;font-size:26.31px;transform:scaleX(1.2873);color:#ffffff;font-weight:700;-webkit-text-stroke:1.10px #ffffff;">3</div>
<div class="t" style="left:991.23px;top:555.24px;font-size:27.62px;transform:scaleX(0.9767);color:#ffffff;font-weight:700;-webkit-text-stroke:1.10px #ffffff;">R11</div>
<div class="t" style="left:1157.42px;top:553.53px;font-size:28.92px;transform:scaleX(1.0968);color:#ffffff;font-weight:700;-webkit-text-stroke:1.10px #ffffff;">JAKARTA,</div>
<div class="t" style="left:1327.13px;top:552.42px;font-size:30.23px;transform:scaleX(1.0662);color:#ffffff;-webkit-text-stroke:0.20px #ffffff;">INDONESIA</div>
<div class="t" style="left:1673.18px;top:556.15px;font-size:26.31px;transform:scaleX(1.1918);color:#ffffff;font-weight:700;-webkit-text-stroke:1.10px #ffffff;">JUNE</div>
<div class="t" style="left:1765.20px;top:556.15px;font-size:26.31px;transform:scaleX(1.3165);color:#ffffff;font-weight:700;-webkit-text-stroke:1.10px #ffffff;">4</div>
<div class="t" style="left:987.29px;top:654.68px;font-size:27.62px;transform:scaleX(1.1268);color:#ffffff;font-weight:700;-webkit-text-stroke:1.10px #ffffff;">R12</div>
<div class="t" style="left:1156.46px;top:652.97px;font-size:28.92px;transform:scaleX(1.1148);color:#ffffff;font-weight:700;-webkit-text-stroke:1.10px #ffffff;">PORTLAND,</div>
<div class="t" style="left:1354.07px;top:651.86px;font-size:30.23px;transform:scaleX(1.0866);color:#ffffff;-webkit-text-stroke:0.20px #ffffff;">USA*</div>
<div class="t" style="left:1662.18px;top:655.59px;font-size:26.31px;transform:scaleX(1.2169);color:#ffffff;font-weight:700;-webkit-text-stroke:1.10px #ffffff;">JUNE</div>
<div class="t" style="left:1755.27px;top:655.59px;font-size:26.31px;transform:scaleX(1.3391);color:#ffffff;font-weight:700;-webkit-text-stroke:1.10px #ffffff;">24</div>
<div class="t" style="left:987.29px;top:754.12px;font-size:27.62px;transform:scaleX(1.1244);color:#ffffff;font-weight:700;-webkit-text-stroke:1.10px #ffffff;">R13</div>
<div class="t" style="left:1156.37px;top:752.41px;font-size:28.92px;transform:scaleX(1.1734);color:#ffffff;font-weight:700;-webkit-text-stroke:1.10px #ffffff;">ROME,</div>
<div class="t" style="left:1277.38px;top:751.30px;font-size:30.23px;transform:scaleX(0.9733);color:#ffffff;-webkit-text-stroke:0.20px #ffffff;">ITALY</div>
<div class="t" style="left:1679.67px;top:755.03px;font-size:26.31px;transform:scaleX(1.1191);color:#ffffff;font-weight:700;-webkit-text-stroke:1.10px #ffffff;">JUL</div>
<div class="t" style="left:1742.41px;top:755.03px;font-size:26.31px;transform:scaleX(1.2065);color:#ffffff;font-weight:700;-webkit-text-stroke:1.10px #ffffff;">15</div>
<div class="t" style="left:986.53px;top:853.56px;font-size:27.62px;transform:scaleX(1.1353);color:#ffffff;font-weight:700;-webkit-text-stroke:1.10px #ffffff;">R14</div>
<div class="t" style="left:1156.37px;top:851.85px;font-size:28.92px;transform:scaleX(1.1734);color:#ffffff;font-weight:700;-webkit-text-stroke:1.10px #ffffff;">ROME,</div>
<div class="t" style="left:1277.38px;top:850.74px;font-size:30.23px;transform:scaleX(0.9733);color:#ffffff;-webkit-text-stroke:0.20px #ffffff;">ITALY</div>
<div class="t" style="left:1678.92px;top:854.47px;font-size:26.31px;transform:scaleX(1.1342);color:#ffffff;font-weight:700;-webkit-text-stroke:1.10px #ffffff;">JUL</div>
<div class="t" style="left:1742.40px;top:854.47px;font-size:26.31px;transform:scaleX(1.2160);color:#ffffff;font-weight:700;-webkit-text-stroke:1.10px #ffffff;">16</div>
<div class="t" style="left:986.52px;top:953.00px;font-size:27.62px;transform:scaleX(1.1395);color:#ffffff;font-weight:700;-webkit-text-stroke:1.10px #ffffff;">R15</div>
<div class="t" style="left:1156.65px;top:951.29px;font-size:28.92px;transform:scaleX(1.1202);color:#ffffff;font-weight:700;-webkit-text-stroke:1.10px #ffffff;">LONDON,</div>
<div class="t" style="left:1315.66px;top:950.18px;font-size:30.23px;transform:scaleX(1.0499);color:#ffffff;-webkit-text-stroke:0.20px #ffffff;">UK</div>
<div class="t" style="left:1676.42px;top:953.91px;font-size:26.31px;transform:scaleX(1.1342);color:#ffffff;font-weight:700;-webkit-text-stroke:1.10px #ffffff;">JUL</div>
<div class="t" style="left:1739.49px;top:953.91px;font-size:26.31px;transform:scaleX(1.4048);color:#ffffff;font-weight:700;-webkit-text-stroke:1.10px #ffffff;">29</div>
<div class="t" style="left:986.49px;top:1052.44px;font-size:27.62px;transform:scaleX(1.1652);color:#ffffff;font-weight:700;-webkit-text-stroke:1.10px #ffffff;">R16</div>
<div class="t" style="left:1156.65px;top:1050.73px;font-size:28.92px;transform:scaleX(1.1202);color:#ffffff;font-weight:700;-webkit-text-stroke:1.10px #ffffff;">LONDON,</div>
<div class="t" style="left:1315.66px;top:1049.62px;font-size:30.23px;transform:scaleX(1.0499);color:#ffffff;-webkit-text-stroke:0.20px #ffffff;">UK</div>
<div class="t" style="left:1676.42px;top:1053.35px;font-size:26.31px;transform:scaleX(1.1342);color:#ffffff;font-weight:700;-webkit-text-stroke:1.10px #ffffff;">JUL</div>
<div class="t" style="left:1739.92px;top:1053.35px;font-size:26.31px;transform:scaleX(1.4208);color:#ffffff;font-weight:700;-webkit-text-stroke:1.10px #ffffff;">30</div>
<div class="t" style="left:143.12px;top:343.20px;font-size:13.23px;transform:scaleX(1.2005);color:#18e0f2;font-weight:700;-webkit-text-stroke:0.30px #18e0f2;">PRE-</div>
<div class="t" style="left:129.73px;top:362.90px;font-size:13.23px;transform:scaleX(1.1733);color:#18e0f2;font-weight:700;-webkit-text-stroke:0.30px #18e0f2;">SEASON</div>
<div class="t" style="left:128.50px;top:382.55px;font-size:13.23px;transform:scaleX(1.2074);color:#18e0f2;font-weight:700;-webkit-text-stroke:0.30px #18e0f2;">TESTING</div>
<div class="t" style="left:118.18px;top:93.69px;font-size:109.74px;transform:scaleX(1.0957);color:#0a32f0;font-weight:700;-webkit-text-stroke:3.00px #0a32f0;">SEASON</div>
<div class="t" style="left:650.72px;top:93.69px;font-size:109.74px;transform:scaleX(1.4246);color:#0a32f0;font-weight:700;-webkit-text-stroke:3.00px #0a32f0;">9</div>
<div class="t" style="left:116.76px;top:191.48px;font-size:110.47px;transform:scaleX(1.0682);color:#0a32f0;font-weight:700;-webkit-text-stroke:3.00px #0a32f0;">CALENDAR</div>
<div class="t" style="left:1501.39px;top:108.14px;font-size:36.92px;transform:scaleX(1.0340);color:#ffffff;font-weight:700;-webkit-text-stroke:2.60px #ffffff;">A</div>
<div class="t" style="left:1529.94px;top:108.14px;font-size:36.92px;transform:scaleX(0.8202);color:#ffffff;font-weight:700;-webkit-text-stroke:2.60px #ffffff;">B</div>
<div class="t" style="left:1552.93px;top:108.14px;font-size:36.92px;transform:scaleX(0.8282);color:#ffffff;font-weight:700;-webkit-text-stroke:2.60px #ffffff;">B</div>
<div class="t" style="left:1550.73px;top:153.35px;font-size:12.94px;transform:scaleX(1.2875);color:#ffffff;font-weight:700;-webkit-text-stroke:0.70px #ffffff;">WORLD CHAMPIONSHIP</div>
<div class="t" style="text-shadow:1.3px 0 #001eff,-1.3px 0 #001eff,0 1.3px #001eff,0 -1.3px #001eff,1px 1px #001eff,-1px 1px #001eff,1px -1px #001eff,-1px -1px #001eff;left:1503.51px;top:148.36px;font-size:21.66px;transform:scaleX(0.9951);color:#ffffff;font-weight:700;-webkit-text-stroke:1.30px #ffffff;">FiA</div>
<div class="t" style="left:1412.07px;top:1146.10px;font-size:19.84px;transform:scaleX(1.0713);color:#17174f;-webkit-text-stroke:0.25px #17174f;">SUBJECT TO CIRCUIT HOMOLOGATION</div>
<div class="t" style="left:1397.43px;top:1137.88px;font-size:37.31px;transform:scaleX(0.9448);color:#17174f;">*</div>
</div>
<svg style="position:absolute;left:1500px;top:108px" width="76" height="34" viewBox="1500 108 76 34"><path d="M1500,125.3 H1576 M1514.3,108 V142 M1539.3,108 V142 M1563,108 V142" stroke="#001eff" stroke-width=".8" fill="none"/></svg>
</body></html>
